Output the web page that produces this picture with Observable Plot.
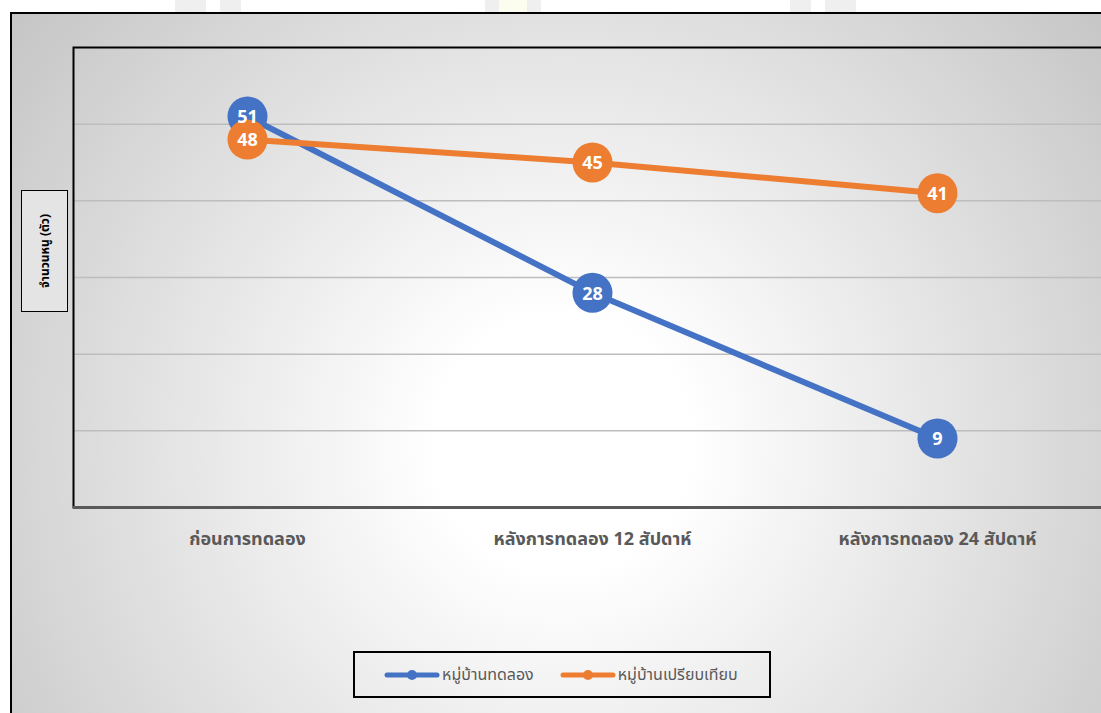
<!DOCTYPE html>
<html>
<head>
<meta charset="utf-8">
<script src="https://cdn.jsdelivr.net/npm/d3@7"></script>
<script src="https://cdn.jsdelivr.net/npm/@observablehq/plot@0.6"></script>
<style>
  html, body { margin: 0; padding: 0; background: #ffffff; }
  #page { position: relative; width: 1101px; height: 713px; overflow: hidden; background: #ffffff;
          font-family: Tahoma, "Noto Sans Thai", "Noto Sans", "DejaVu Sans", sans-serif; }
  .mark { position: absolute; top: 0; height: 12px; background: #efefef; }
  #chartBox { position: absolute; left: 10px; top: 12px; width: 1120px; height: 730px;
              border: 2px solid #000; box-sizing: border-box;
              background: radial-gradient(circle farthest-corner at 550px 430px, #ffffff 0%, #ffffff 18%, #c4c4c4 100%); }
  #plotHolder { position: absolute; left: 0; top: 0; width: 1125px; height: 713px; }
  #plotHolder svg { max-width: none !important; }
  #yTitle { position: absolute; left: 21px; top: 190px; width: 47px; height: 122px; box-sizing: border-box;
            border: 1.5px solid #000; background: #e4e4e4; }
  #yTitle span { position: absolute; left: 50%; top: 50%; transform: translate(-50%, -50%) rotate(-90deg);
                 white-space: nowrap; font-size: 12px; font-weight: bold; color: #000; }
  #legend { position: absolute; left: 353px; top: 651px; width: 418px; height: 47px; box-sizing: border-box;
            border: 2px solid #000; display: flex; align-items: center; padding-left: 29px; gap: 26px; }
  .item { display: flex; align-items: center; font-size: 16px; color: #595959; }
  .item svg { margin-right: 2px; }
</style>
</head>
<body>
<div id="page">
  <div class="mark" style="left:175px;width:31px"></div>
  <div class="mark" style="left:220px;width:21px"></div>
  <div class="mark" style="left:485px;width:14px"></div>
  <div class="mark" style="left:499px;width:28px;background:#fdfdef"></div>
  <div class="mark" style="left:527px;width:14px"></div>
  <div class="mark" style="left:790px;width:21px"></div>
  <div class="mark" style="left:825px;width:31px"></div>
  <div id="chartBox"></div>
  <div id="plotHolder"></div>
  <div id="yTitle"><span>จำนวนหนู (ตัว)</span></div>
  <div id="legend"></div>
</div>
<script>
// Survey periods (x categories)
const periods = ["ก่อนการทดลอง", "หลังการทดลอง 12 สัปดาห์", "หลังการทดลอง 24 สัปดาห์"];
// Rat counts per village group
const experimentVillage = [51, 28, 9];
const comparisonVillage = [48, 45, 41];
const seriesNames = ["หมู่บ้านทดลอง", "หมู่บ้านเปรียบเทียบ"];
const seriesColors = ["#4472C4", "#ED7D31"];
const gridValues = [10, 20, 30, 40, 50];

const rows = [];
[experimentVillage, comparisonVillage].forEach((vals, s) => {
  vals.forEach((v, i) => rows.push({period: periods[i], value: v, series: seriesNames[s]}));
});

// Each series: line then markers, so the later series sits on top
const seriesMarks = seriesNames.flatMap((name, s) => {
  const d = rows.filter(r => r.series === name);
  return [
    Plot.line(d, {x: "period", y: "value", stroke: seriesColors[s], strokeWidth: 6, strokeLinecap: "round"}),
    Plot.dot(d, {x: "period", y: "value", r: 20, fill: seriesColors[s], stroke: "none"})
  ];
});

const chart = Plot.plot({
  width: 1125,
  height: 713,
  marginLeft: 73,
  marginTop: 47,
  marginBottom: 206,
  marginRight: 0,
  style: {background: "transparent", maxWidth: "none", fontFamily: 'Tahoma, "Noto Sans Thai", "Noto Sans", sans-serif'},
  x: {type: "point", domain: periods, range: [247, 937], padding: 0, axis: null},
  y: {domain: [0, 60], axis: null},
  marks: [
    Plot.ruleY(gridValues, {stroke: "#bdbdbd", strokeWidth: 1.5}),
    Plot.frame({stroke: "#000", strokeWidth: 2}),
    Plot.ruleY([0], {stroke: "#595959", strokeWidth: 3}),
    Plot.axisX({tickSize: 0, tickPadding: 25, fontSize: 18, fontWeight: "bold", fill: "#595959", label: null}),
    ...seriesMarks,
    Plot.text(rows, {x: "period", y: "value", text: d => String(d.value), fill: "white",
      fontSize: 18, fontWeight: "bold", fontFamily: '"Open Sans", sans-serif', dy: 1})
  ]
});
document.getElementById("plotHolder").appendChild(chart);

// Legend
const legend = document.getElementById("legend");
seriesNames.forEach((name, s) => {
  const item = document.createElement("div");
  item.className = "item";
  item.innerHTML = `<svg width="56" height="12"><line x1="3" y1="6" x2="53" y2="6" stroke="${seriesColors[s]}" stroke-width="5" stroke-linecap="round"/><circle cx="28" cy="6" r="5" fill="${seriesColors[s]}"/></svg><span>${name}</span>`;
  legend.appendChild(item);
});
</script>
</body>
</html>
